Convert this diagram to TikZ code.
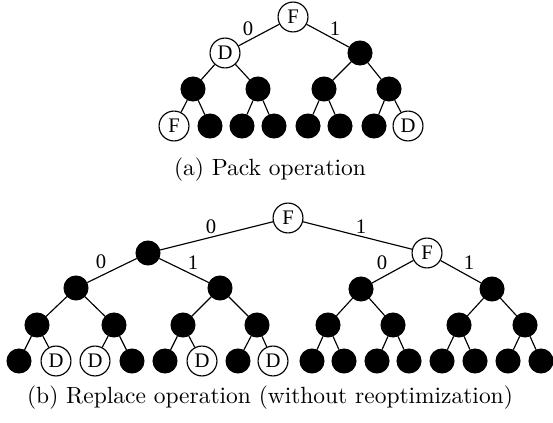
\documentclass[tikz,border=0pt]{standalone}
\usepackage{fontspec}
\newfontfamily\tms{Liberation Serif}
\begin{document}
\begin{tikzpicture}[x=0.435pt,y=-0.435pt,
  every path/.style={line width=0.5pt},
  bk/.style={circle,fill=black,draw=black,minimum size=10.4pt,inner sep=0pt},
  wh/.style={circle,fill=white,draw=black,minimum size=13pt,inner sep=0pt,font=\tms\fontsize{9}{9}\selectfont},
  lbl/.style={font=\tms\fontsize{9}{9}\selectfont,inner sep=0pt},
  captext/.style={font=\fontsize{10.2}{12}\selectfont,inner sep=0pt}]
\useasboundingbox (0,0) rectangle (553,422);
% ---------- (a) ----------
\node[wh] (ar) at (293,17) {F};
\node[wh] (a0) at (225,53) {D};
\node[bk] (a1) at (360,53) {};
\node[bk] (a00) at (193,89) {};
\node[bk] (a01) at (258,89) {};
\node[bk] (a10) at (324,89) {};
\node[bk] (a11) at (389,89) {};
\node[wh] (a000) at (174,126) {F};
\node[bk] (a001) at (210,126) {};
\node[bk] (a010) at (242,126) {};
\node[bk] (a011) at (274,126) {};
\node[bk] (a100) at (308,126) {};
\node[bk] (a101) at (340,126) {};
\node[bk] (a110) at (374,126) {};
\node[wh] (a111) at (408,126) {D};
\foreach \p/\c in {ar/a0,ar/a1,a0/a00,a0/a01,a1/a10,a1/a11,a00/a000,a00/a001,a01/a010,a01/a011,a10/a100,a10/a101,a11/a110,a11/a111}
  \draw (\p) -- (\c);
\node[lbl] (la0) at (248,29) {0};
\node[lbl] (la1) at (335,29) {1};
\node[captext] (capa) at (270,170) {(a) Pack operation};
% ---------- (b) ----------
\node[wh] (br) at (288,218) {F};
\node[bk] (b0) at (148,253) {};
\node[wh] (b1) at (427,253) {F};
\node[bk] (b00) at (76,288) {};
\node[bk] (b01) at (220,288) {};
\node[bk] (b10) at (361,289) {};
\node[bk] (b11) at (492,289) {};
\node[bk] (b000) at (37,325) {};
\node[bk] (b001) at (114,325) {};
\node[bk] (b010) at (183,325) {};
\node[bk] (b011) at (257,325) {};
\node[bk] (b100) at (328,325) {};
\node[bk] (b101) at (393,325) {};
\node[bk] (b110) at (459,325) {};
\node[bk] (b111) at (525,325) {};
\node[bk] (l1) at (19,361) {};
\node[wh] (l2) at (56,361) {D};
\node[wh] (l3) at (95,361) {D};
\node[bk] (l4) at (132,361) {};
\node[bk] (l5) at (165,361) {};
\node[wh] (l6) at (202,361) {D};
\node[bk] (l7) at (238,361) {};
\node[wh] (l8) at (273,361) {D};
\node[bk] (l9) at (312,361) {};
\node[bk] (l10) at (344,361) {};
\node[bk] (l11) at (377,361) {};
\node[bk] (l12) at (409,361) {};
\node[bk] (l13) at (442,361) {};
\node[bk] (l14) at (475,361) {};
\node[bk] (l15) at (508,361) {};
\node[bk] (l16) at (541,361) {};
\foreach \p/\c in {br/b0,br/b1,b0/b00,b0/b01,b1/b10,b1/b11,
  b00/b000,b00/b001,b01/b010,b01/b011,b10/b100,b10/b101,b11/b110,b11/b111,
  b000/l1,b000/l2,b001/l3,b001/l4,b010/l5,b010/l6,b011/l7,b011/l8,
  b100/l9,b100/l10,b101/l11,b101/l12,b110/l13,b110/l14,b111/l15,b111/l16}
  \draw (\p) -- (\c);
\node[lbl] (lb1) at (211,227) {0};
\node[lbl] (lb2) at (361,227) {1};
\node[lbl] (lb3) at (101,262) {0};
\node[lbl] (lb4) at (193,263) {1};
\node[lbl] (lb5) at (382,263) {0};
\node[lbl] (lb6) at (469,263) {1};
\node[captext] (capb) at (270,398) {(b) Replace operation (without reoptimization)};
\end{tikzpicture}
\end{document}
